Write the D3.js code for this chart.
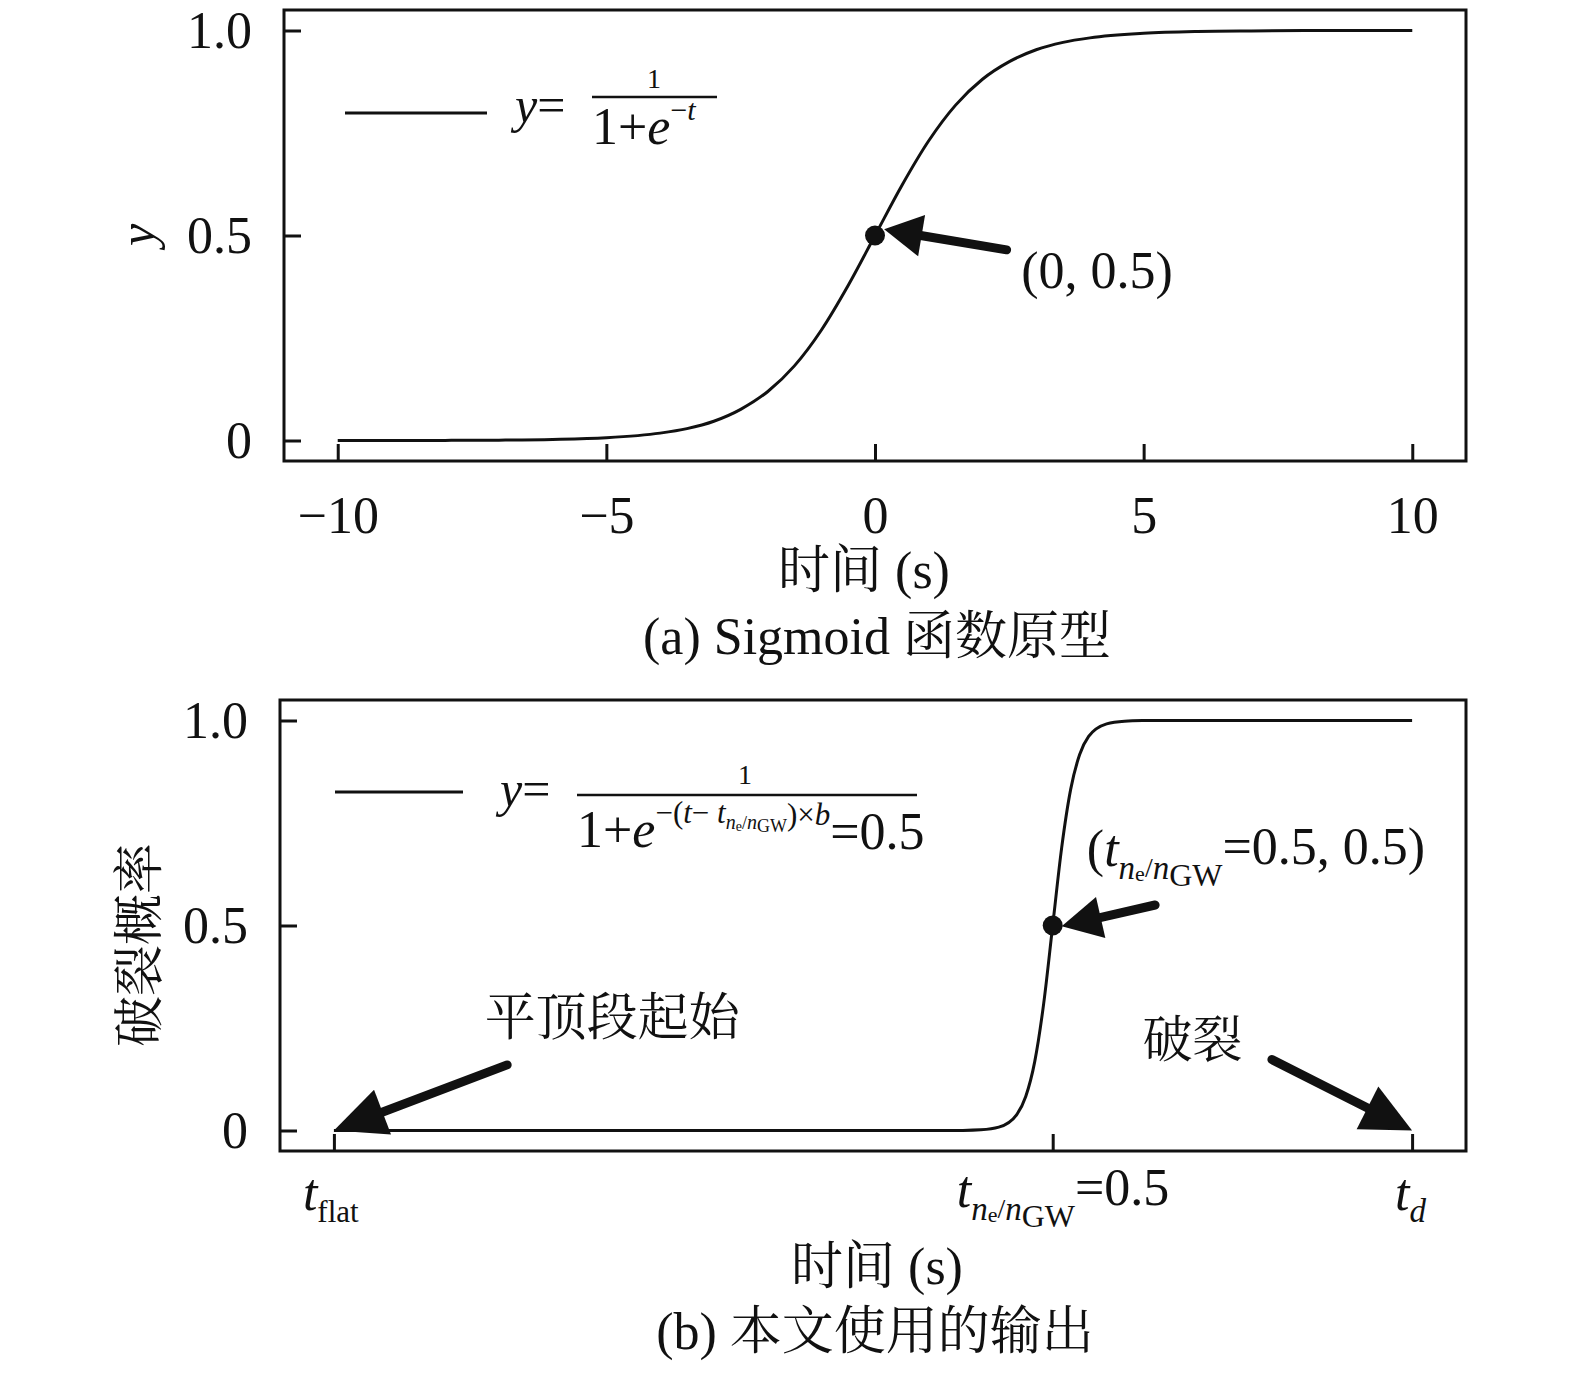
<!DOCTYPE html>
<html>
<head>
<meta charset="utf-8">
<script src="https://cdn.jsdelivr.net/npm/d3@7"></script>
<style>
  body { margin: 0; background: #fff; }
  text { font-family: "Liberation Serif", "Noto Serif CJK SC", "Noto Sans CJK SC", serif; fill: #111; }
</style>
</head>
<body>
<div id="chart"></div>
<script>
// curve (a): sigmoid prototype
const tA = [-10, -9, -8, -7, -6, -5, -4, -3.5, -3, -2.5, -2, -1.5, -1, -0.5, 0,
            0.5, 1, 1.5, 2, 2.5, 3, 3.5, 4, 5, 6, 7, 8, 9, 10];
const yA = [0, 0.0001, 0.0003, 0.0009, 0.0025, 0.0067, 0.018, 0.029, 0.047, 0.076, 0.119, 0.182, 0.269, 0.378, 0.5,
            0.622, 0.731, 0.818, 0.881, 0.924, 0.953, 0.971, 0.982, 0.993, 0.9975, 0.999, 0.9997, 0.9999, 1];
const xTicksA = [-10, -5, 0, 5, 10];
const yTicks = [0, 0.5, 1];
const yTickLabels = ["0", "0.5", "1.0"];

// curve (b): output used in the paper (t_flat = 0, t_ne/nGW = 20, t_d = 30)
const tB = [0, 5, 10, 15, 17, 17.5, 18, 18.5, 19, 19.25, 19.5, 19.75, 20,
            20.25, 20.5, 20.75, 21, 21.5, 22, 22.5, 23, 25, 30];
const yB = [0, 0, 0, 0, 0.00007, 0.0003, 0.0017, 0.0082, 0.039, 0.083, 0.168, 0.31, 0.5,
            0.69, 0.832, 0.917, 0.961, 0.9918, 0.9983, 0.9997, 1, 1, 1];
const xTicksB = [0, 20, 30];

const svg = d3.select("#chart").append("svg")
    .attr("width", 1575)
    .attr("height", 1374);

// scales
const xa = d3.scaleLinear().domain([-11, 11]).range([284, 1466]);
const ya = d3.scaleLinear().domain([-0.05, 1.05]).range([461, 10]);
const xb = d3.scaleLinear().domain([-1.5, 31.5]).range([280, 1466]);
const yb = d3.scaleLinear().domain([-0.05, 1.05]).range([1151, 700]);

function frame(x, y) {
    svg.append("rect")
        .attr("x", x.range()[0]).attr("y", y.range()[1])
        .attr("width", x.range()[1] - x.range()[0])
        .attr("height", y.range()[0] - y.range()[1])
        .attr("fill", "none").attr("stroke", "#111").attr("stroke-width", 3);
}

function axes(x, y, xticks, xfmt) {
    const gx = svg.append("g")
        .attr("transform", "translate(0," + y.range()[0] + ")")
        .call(d3.axisBottom(x).tickValues(xticks).tickSizeInner(-17).tickSizeOuter(0)
            .tickPadding(35).tickFormat(xfmt));
    gx.select(".domain").remove();
    gx.selectAll("line").attr("stroke", "#111").attr("stroke-width", 3);
    gx.selectAll("text").attr("font-size", 52).attr("font-family", "Liberation Serif").attr("fill", "#111");

    const gy = svg.append("g")
        .attr("transform", "translate(" + x.range()[0] + ",0)")
        .call(d3.axisLeft(y).tickValues(yTicks).tickSizeInner(-17).tickSizeOuter(0)
            .tickPadding(32).tickFormat((d, i) => yTickLabels[i]));
    gy.select(".domain").remove();
    gy.selectAll("line").attr("stroke", "#111").attr("stroke-width", 3);
    gy.selectAll("text").attr("font-size", 52).attr("font-family", "Liberation Serif").attr("fill", "#111");
    return gx;
}

function curve(x, y, ts, vs) {
    const line = d3.line()
        .x(i => x(ts[i]))
        .y(i => y(vs[i]))
        .curve(d3.curveMonotoneX);
    svg.append("path")
        .attr("d", line(d3.range(ts.length)))
        .attr("fill", "none").attr("stroke", "#111").attr("stroke-width", 3);
}

function arrow(p0, p1, headLen, headHalf, sw) {
    const dx = p1[0] - p0[0], dy = p1[1] - p0[1];
    const L = Math.sqrt(dx * dx + dy * dy);
    const ux = dx / L, uy = dy / L;
    const bx = p1[0] - ux * headLen, by = p1[1] - uy * headLen;
    svg.append("line")
        .attr("x1", p0[0]).attr("y1", p0[1])
        .attr("x2", bx + ux * 4).attr("y2", by + uy * 4)
        .attr("stroke", "#111").attr("stroke-width", sw).attr("stroke-linecap", "round");
    svg.append("polygon")
        .attr("points", [[p1[0], p1[1]], [bx - uy * headHalf, by + ux * headHalf], [bx + uy * headHalf, by - ux * headHalf]].join(" "))
        .attr("fill", "#111");
}

// ---------------- (a) ----------------
frame(xa, ya);
axes(xa, ya, xTicksA, d => d < 0 ? "\u2212" + Math.abs(d) : d);
curve(xa, ya, tA, yA);

svg.append("circle").attr("cx", xa(0)).attr("cy", ya(0.5)).attr("r", 10).attr("fill", "#111");
arrow([xa(2.45), ya(0.465)], [xa(0.17), ya(0.515)], 38, 21, 9);
svg.append("text").attr("x", xa(2.72)).attr("y", ya(0.415))
    .attr("dominant-baseline", "central").attr("font-size", 52).text("(0, 0.5)");

// legend (a)
svg.append("line").attr("x1", 345).attr("x2", 487).attr("y1", 113).attr("y2", 113)
    .attr("stroke", "#111").attr("stroke-width", 3);
svg.append("text").attr("x", 515).attr("y", 122).attr("font-size", 50)
    .html('<tspan font-style="italic">y</tspan>=');
svg.append("text").attr("x", 654).attr("y", 88).attr("font-size", 28).attr("text-anchor", "middle").text("1");
svg.append("line").attr("x1", 592).attr("x2", 717).attr("y1", 97).attr("y2", 97)
    .attr("stroke", "#111").attr("stroke-width", 2.5);
svg.append("text").attr("x", 592).attr("y", 144).attr("font-size", 52)
    .html('1+<tspan font-style="italic">e</tspan><tspan font-size="30" dy="-24">\u2212</tspan><tspan font-size="30" font-style="italic">t</tspan>');

svg.append("text").attr("x", 864).attr("y", 570).attr("text-anchor", "middle")
    .attr("dominant-baseline", "central").attr("font-size", 52).text("时间 (s)");
svg.append("text").attr("x", 877).attr("y", 636).attr("text-anchor", "middle")
    .attr("dominant-baseline", "central").attr("font-size", 52).text("(a) Sigmoid 函数原型");
svg.append("text").attr("transform", "translate(137,235) rotate(-90)").attr("text-anchor", "middle")
    .attr("dominant-baseline", "central").attr("font-size", 50).attr("font-style", "italic").text("y");

// ---------------- (b) ----------------
frame(xb, yb);
axes(xb, yb, xTicksB, "");
curve(xb, yb, tB, yB);

// custom tick labels for (b)
const subT = '<tspan font-style="italic">t</tspan>';
const neGW = '<tspan font-size="33" font-style="italic" dy="13">n</tspan><tspan font-size="22" dy="2">e</tspan>' +
    '<tspan font-size="28" dy="-4">/</tspan><tspan font-size="33" font-style="italic" dy="2">n</tspan>' +
    '<tspan font-size="32" dy="7">GW</tspan>';
svg.append("text").attr("x", xb(0) - 31).attr("y", 1210).attr("font-size", 52)
    .html(subT + '<tspan font-size="31" dy="12">flat</tspan>');
svg.append("text").attr("x", xb(20) - 96).attr("y", 1207).attr("font-size", 52)
    .html(subT + neGW + '<tspan dy="-22">=0.5</tspan>');
svg.append("text").attr("x", xb(30) - 17).attr("y", 1210).attr("font-size", 52)
    .html(subT + '<tspan font-size="33" font-style="italic" dy="12">d</tspan>');

svg.append("circle").attr("cx", xb(20)).attr("cy", yb(0.5)).attr("r", 10).attr("fill", "#111");
arrow([xb(22.85), yb(0.55)], [xb(20.25), yb(0.498)], 40, 21, 9);
arrow([xb(4.82), yb(0.16)], [xb(0), yb(0)], 52, 24, 9);
arrow([xb(26.1), yb(0.173)], [xb(30), yb(0)], 50, 24, 9);

svg.append("text").attr("x", xb(20.95)).attr("y", 866).attr("font-size", 52)
    .html('(' + subT + neGW + '<tspan dy="-22">=0.5, 0.5)</tspan>');
svg.append("text").attr("x", xb(4.2)).attr("y", yb(0.275)).attr("dominant-baseline", "central")
    .attr("font-size", 51).text("平顶段起始");
svg.append("text").attr("x", xb(22.5)).attr("y", yb(0.22)).attr("dominant-baseline", "central")
    .attr("font-size", 50).text("破裂");

// legend (b)
svg.append("line").attr("x1", 335).attr("x2", 463).attr("y1", 792).attr("y2", 792)
    .attr("stroke", "#111").attr("stroke-width", 3);
svg.append("text").attr("x", 500).attr("y", 806).attr("font-size", 50)
    .html('<tspan font-style="italic">y</tspan>=');
svg.append("text").attr("x", 745).attr("y", 784).attr("font-size", 28).attr("text-anchor", "middle").text("1");
svg.append("line").attr("x1", 577).attr("x2", 917).attr("y1", 795).attr("y2", 795)
    .attr("stroke", "#111").attr("stroke-width", 2.5);
svg.append("text").attr("x", 577).attr("y", 847).attr("font-size", 52)
    .html('1+<tspan font-style="italic">e</tspan>' +
        '<tspan font-size="31" dy="-24">\u2212(</tspan><tspan font-size="31" font-style="italic">t</tspan>' +
        '<tspan font-size="31">\u2212 </tspan><tspan font-size="31" font-style="italic">t</tspan>' +
        '<tspan font-size="20" font-style="italic" dy="6">n</tspan><tspan font-size="14" dy="2">e</tspan>' +
        '<tspan font-size="18" dy="-2">/</tspan><tspan font-size="20" font-style="italic">n</tspan>' +
        '<tspan font-size="18" dy="3">GW</tspan>' +
        '<tspan font-size="31" dy="-7">)\u00d7</tspan><tspan font-size="31" font-style="italic">b</tspan>' +
        '<tspan dy="24">=0.5</tspan>');

svg.append("text").attr("x", 877).attr("y", 1266).attr("text-anchor", "middle")
    .attr("dominant-baseline", "central").attr("font-size", 52).text("时间 (s)");
svg.append("text").attr("x", 875).attr("y", 1331).attr("text-anchor", "middle")
    .attr("dominant-baseline", "central").attr("font-size", 52).text("(b) 本文使用的输出");
svg.append("text").attr("transform", "translate(140,945) rotate(-90)").attr("text-anchor", "middle")
    .attr("dominant-baseline", "central").attr("font-size", 51).text("破裂概率");
</script>
</body>
</html>
